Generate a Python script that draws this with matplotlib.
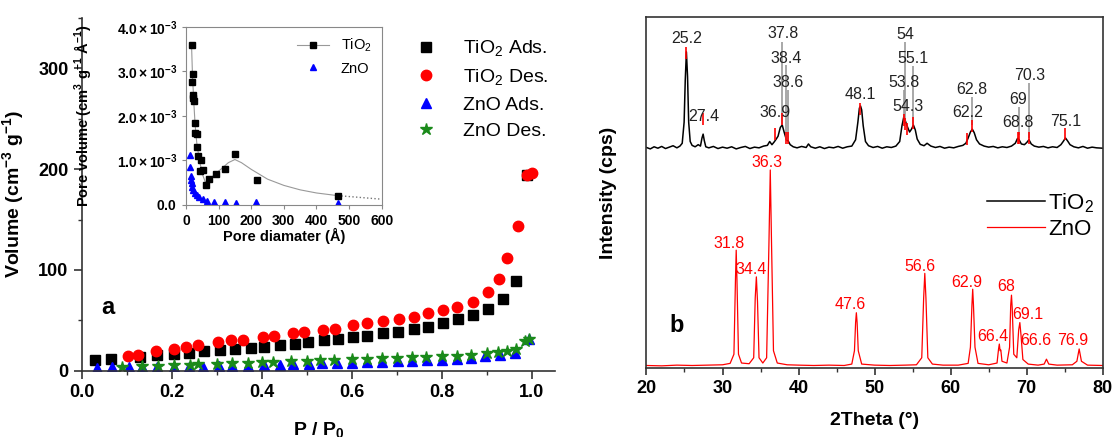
import matplotlib.pyplot as plt
from matplotlib.lines import Line2D
from matplotlib.ticker import MultipleLocator, FuncFormatter

plt.rcParams['font.family'] = ['Liberation Sans', 'DejaVu Sans']
plt.rcParams['axes.labelweight'] = 'bold'
plt.rcParams['mathtext.fontset'] = 'custom'
plt.rcParams['mathtext.rm'] = 'Liberation Sans'
plt.rcParams['mathtext.bf'] = 'Liberation Sans:bold'
plt.rcParams['mathtext.it'] = 'Liberation Sans:italic'

# ---------------- (a) N2 isotherms ----------------
p_tio2_ads = [0.030, 0.066, 0.130, 0.168, 0.205, 0.238, 0.272, 0.308, 0.340, 0.376,
              0.406, 0.440, 0.474, 0.504, 0.538, 0.570, 0.602, 0.634, 0.669, 0.704,
              0.738, 0.770, 0.804, 0.836, 0.870, 0.902, 0.936, 0.966, 0.990]
v_tio2_ads = [11, 12, 14, 15.5, 17, 18, 20, 20.5, 22, 23,
              24, 25.5, 26.5, 28.5, 30, 31, 33, 34.5, 37, 38.5,
              41, 43, 47, 51, 55, 61, 71, 89, 194]

p_tio2_des = [0.102, 0.126, 0.166, 0.204, 0.232, 0.258, 0.302, 0.332, 0.358, 0.404,
              0.428, 0.470, 0.494, 0.536, 0.562, 0.602, 0.634, 0.670, 0.706, 0.738,
              0.770, 0.804, 0.834, 0.870, 0.904, 0.928, 0.946, 0.970, 0.990, 1.000]
v_tio2_des = [14.5, 15.5, 20, 22, 24, 25.5, 28, 30, 30.5, 33,
              34.5, 37, 38.5, 40, 41.5, 45, 47, 49.5, 51.5, 53.5,
              57, 60, 63, 68, 78, 91, 112, 144, 194, 196]

p_zno_ads = [0.033, 0.068, 0.105, 0.135, 0.168, 0.205, 0.238, 0.270, 0.305, 0.335,
             0.370, 0.405, 0.440, 0.470, 0.505, 0.535, 0.568, 0.600, 0.634, 0.668,
             0.702, 0.735, 0.768, 0.800, 0.833, 0.866, 0.896, 0.930, 0.962, 0.995]
v_zno_ads = [3, 3.5, 3.5, 3.5, 4, 4, 4, 4, 4.5, 4.5,
             5, 5.5, 6, 6.5, 7, 7.5, 7.5, 8, 8.5, 9,
             9.5, 10, 10.5, 11, 12, 13, 14.5, 16, 18, 31]

p_zno_des = [0.090, 0.135, 0.170, 0.205, 0.240, 0.258, 0.300, 0.335, 0.370, 0.400,
             0.425, 0.465, 0.500, 0.530, 0.560, 0.600, 0.633, 0.667, 0.700, 0.735,
             0.765, 0.800, 0.835, 0.865, 0.900, 0.925, 0.945, 0.965, 0.985, 0.995]
v_zno_des = [4, 4.5, 5, 5.5, 6, 6.5, 7, 7.5, 8, 8.5,
             9, 9.5, 10, 10.5, 11, 11.5, 12, 12.5, 13, 13.5,
             14, 14.5, 15, 16, 18, 19, 20, 22, 29, 31]

# inset: pore size distribution (x1e-3)
d_tio2 = [17, 18, 20, 22, 23, 24, 27, 28, 33, 34, 38, 43, 46, 53, 61, 72, 92, 120, 150, 217, 465]
pv_tio2 = [3.59, 2.77, 2.95, 2.47, 2.39, 2.34, 1.61, 1.83, 1.59, 1.31, 1.11,
           0.77, 1.01, 0.79, 0.45, 0.58, 0.69, 0.81, 1.14, 0.56, 0.21]
d_fit = [17, 20, 24, 28, 33, 40, 50, 60, 75, 90, 110, 130, 150, 170, 200, 250, 300, 350, 400, 465]
pv_fit = [3.6, 2.9, 2.3, 1.8, 1.4, 1.05, 0.7, 0.5, 0.6, 0.7, 0.82, 0.95, 1.02, 0.95, 0.8,
          0.58, 0.44, 0.34, 0.27, 0.21]
d_tail = [465, 500, 550, 600]
pv_tail = [0.21, 0.19, 0.16, 0.13]
d_zno = [12, 13, 14, 15, 17, 19, 23, 28, 33, 41, 51, 65, 87, 120, 153, 214, 467]
pv_zno = [1.12, 0.86, 0.64, 0.56, 0.49, 0.41, 0.34, 0.28, 0.22, 0.17, 0.13, 0.10,
          0.07, 0.07, 0.05, 0.06, 0.05]

# ---------------- (b) XRD ----------------
tt_tio2 = [20.0, 20.5, 21.0, 21.5, 22.0, 22.5, 23.0, 23.5, 24.0, 24.4,
           24.7, 24.95, 25.1, 25.25, 25.4, 25.55, 25.75, 26.0, 26.4, 26.8,
           27.1, 27.3, 27.45, 27.6, 27.8, 28.2, 28.8, 29.4, 30.0, 30.6,
           31.2, 31.8, 32.4, 33.0, 33.6, 34.2, 34.8, 35.4, 35.9, 36.2,
           36.5, 36.8, 37.0, 37.3, 37.6, 37.85, 38.1, 38.4, 38.6, 38.9,
           39.3, 39.8, 40.4, 41.0, 41.3, 41.6, 42.2, 42.8, 43.4, 44.0,
           44.6, 45.2, 45.8, 46.4, 47.0, 47.5, 47.8, 48.0, 48.15, 48.3,
           48.5, 48.8, 49.2, 49.8, 50.4, 51.0, 51.6, 52.2, 52.8, 53.3,
           53.6, 53.85, 54.1, 54.35, 54.6, 54.85, 55.1, 55.35, 55.6, 56.0,
           56.5, 56.9, 57.4, 58.0, 58.6, 59.2, 59.8, 60.4, 61.0, 61.6,
           62.0, 62.3, 62.6, 62.85, 63.1, 63.4, 63.8, 64.4, 65.0, 65.6,
           66.2, 66.8, 67.4, 68.0, 68.5, 68.8, 69.0, 69.3, 69.7, 70.0,
           70.3, 70.6, 71.0, 71.6, 72.2, 72.8, 73.4, 74.0, 74.5, 74.8,
           75.1, 75.4, 75.7, 76.2, 76.8, 77.4, 78.0, 78.6, 79.2, 80.0]
i_tio2 = [628, 624, 630, 626, 631, 625, 629, 633, 627, 632,
          640, 700, 820, 900, 830, 700, 645, 634, 630, 636,
          632, 655, 666, 648, 630, 627, 631, 625, 629, 626,
          630, 624, 628, 631, 625, 629, 627, 632, 634, 645,
          636, 644, 650, 660, 685, 692, 672, 650, 648, 636,
          630, 627, 631, 628, 638, 630, 626, 630, 625, 629,
          627, 631, 626, 630, 632, 650, 700, 740, 746, 735,
          690, 645, 633, 628, 631, 626, 630, 628, 632, 645,
          690, 716, 700, 685, 672, 680, 692, 678, 652, 637,
          633, 640, 632, 628, 631, 626, 629, 627, 631, 634,
          640, 655, 672, 680, 670, 650, 638, 632, 629, 631,
          627, 630, 628, 632, 640, 654, 650, 638, 636, 642,
          650, 638, 632, 629, 631, 627, 630, 628, 636, 645,
          655, 646, 636, 630, 627, 631, 626, 629, 627, 626]

tt_zno = [20.0, 22.0, 24.0, 26.0, 28.0, 30.0, 31.0, 31.5, 31.7, 31.8,
          31.9, 32.1, 32.5, 33.5, 34.1, 34.3, 34.45, 34.6, 34.8, 35.3,
          35.8, 36.1, 36.28, 36.45, 36.7, 37.2, 38.5, 40.0, 42.0, 44.0,
          46.0, 47.0, 47.35, 47.5, 47.6, 47.7, 47.85, 48.3, 50.0, 52.0,
          54.0, 55.5, 56.2, 56.45, 56.6, 56.75, 57.0, 57.6, 59.0, 61.0,
          62.3, 62.6, 62.8, 62.9, 63.0, 63.2, 63.6, 65.0, 66.1, 66.3,
          66.4, 66.5, 66.6, 66.75, 67.4, 67.75, 67.9, 68.0, 68.1, 68.3,
          68.7, 68.95, 69.1, 69.25, 69.5, 70.2, 71.5, 72.3, 72.6, 72.9,
          74.0, 76.0, 76.6, 76.9, 77.2, 78.0, 80.0]
i_zno = [8, 7, 9, 8, 9, 10, 14, 40, 250, 336,
         250, 40, 15, 13, 30, 200, 260, 190, 30, 15,
         30, 350, 564, 350, 50, 15, 10, 9, 8, 9,
         8, 12, 50, 130, 158, 130, 50, 12, 9, 8,
         9, 10, 30, 200, 270, 200, 30, 12, 9, 9,
         14, 60, 180, 225, 180, 60, 14, 10, 15, 55,
         69, 50, 52, 20, 15, 60, 180, 208, 170, 40,
         30, 110, 130, 95, 25, 12, 9, 12, 26, 12,
         9, 10, 20, 55, 20, 9, 8]

tio2_labels = ['25.2', '27.4', '36.9', '37.8', '38.4', '38.6', '48.1', '53.8', '54',
               '55.1', '54.3', '62.8', '62.2', '69', '68.8', '70.3', '75.1']
tio2_lab_x = [25.3, 27.5, 36.9, 37.9, 38.4, 38.65, 48.1, 53.9, 54.0,
              55.1, 54.35, 62.8, 62.2, 68.9, 68.8, 70.4, 75.1]
tio2_lab_y = [937, 716, 727, 952, 882, 812, 778, 812, 949,
              881, 746, 793, 727, 765, 699, 834, 702]

zno_labels = ['36.3', '31.8', '34.4', '56.6', '47.6', '62.9', '68', '69.1', '66.4', '66.6', '76.9']
zno_lab_x = [35.8, 30.9, 33.7, 55.9, 46.8, 62.1, 67.3, 70.1, 65.5, 71.2, 76.1]
zno_lab_y = [586, 356, 282, 289, 182, 245, 232, 152, 90, 78, 78]

lead_x = [37.8, 38.4, 38.6, 54.0, 55.1, 53.8, 62.8, 69.0, 70.3]
lead_top = [928, 863, 792, 928, 860, 792, 772, 744, 811]
lead_bot = [692, 649, 649, 700, 695, 712, 692, 664, 655]

ref_x = [25.2, 27.4, 36.9, 37.8, 38.4, 38.6, 48.1, 53.8, 54.0, 54.3, 55.1,
         62.2, 62.8, 68.8, 69.0, 70.3, 75.1]
ref_top = [914, 726, 683, 726, 672, 672, 755, 723, 712, 698, 715,
           669, 706, 672, 672, 672, 683]


def bold_ticklabels(axis):
    for lab in axis.get_xticklabels() + axis.get_yticklabels():
        lab.set_fontweight('bold')


fig = plt.figure(figsize=(11.15, 4.37), dpi=100)

# ---- panel a ----
ax = fig.add_axes([0.0733, 0.1517, 0.4245, 0.8071])
ax.plot(p_tio2_ads, v_tio2_ads, 's', color='black', ms=6.5, label='TiO$_2$ Ads.')
ax.plot(p_tio2_des, v_tio2_des, 'o', color='#ff0000', ms=7.5, label='TiO$_2$ Des.')
ax.plot(p_zno_ads, v_zno_ads, '^', color='#0000ff', ms=7.5, label='ZnO Ads.')
ax.plot(p_zno_des, v_zno_des, '*', color='#1a8a1a', ms=9, label='ZnO Des.')
ax.set_xlim(0, 1.052)
ax.set_ylim(0, 350)
ax.xaxis.set_major_locator(MultipleLocator(0.2))
ax.xaxis.set_minor_locator(MultipleLocator(0.1))
ax.yaxis.set_major_locator(MultipleLocator(100))
ax.yaxis.set_minor_locator(MultipleLocator(50))
ax.xaxis.set_major_formatter(FuncFormatter(lambda v, pos: '%.1f' % v))
ax.spines['top'].set_visible(False)
ax.spines['right'].set_visible(False)
for s in ['left', 'bottom']:
    ax.spines[s].set_color('#333333')
    ax.spines[s].set_linewidth(1.2)
ax.tick_params(which='major', direction='out', length=6, width=1.2, labelsize=13, color='#333333')
ax.tick_params(which='minor', direction='out', length=3, width=1.0, color='#333333')
bold_ticklabels(ax)
ax.set_xlabel(r'P / P$_{\mathbf{0}}$', fontsize=14)
ax.xaxis.set_label_coords(0.5, -0.14)
ax.set_ylabel(r'Volume (cm$^{\mathbf{-3}}$ g$^{\mathbf{-1}}$)', fontsize=14)
ax.yaxis.set_label_coords(-0.118, 0.5)
ax.text(0.058, 63, 'a', fontsize=17, fontweight='bold', ha='center', va='center')
ax.legend(loc='upper right', bbox_to_anchor=(1.01, 0.975), frameon=False,
          prop={'size': 14}, handletextpad=0.9, labelspacing=0.45,
          borderaxespad=0.2)

# ---- inset ----
ins = fig.add_axes([0.1668, 0.5309, 0.1755, 0.408])
ins.plot(d_fit, [v * 1e-3 for v in pv_fit], '-', color='#999999', lw=0.8)
ins.plot(d_tail, [v * 1e-3 for v in pv_tail], ':', color='#777777', lw=1.0)
ins.plot(d_tio2, [v * 1e-3 for v in pv_tio2], 's', color='black', ms=4)
ins.plot(d_zno, [v * 1e-3 for v in pv_zno], '^', color='#0000ff', ms=4.5)
ins.set_xlim(0, 600)
ins.set_ylim(0, 4e-3)
ins.set_xticks([0, 100, 200, 300, 400, 500, 600])
ins.set_yticks([0, 1e-3, 2e-3, 3e-3, 4e-3])
ins.yaxis.set_major_formatter(FuncFormatter(
    lambda v, pos: r'$\mathbf{0.0}$' if v == 0 else r'$\mathbf{%.1f\times10^{-3}}$' % (v * 1e3)))
for s in ins.spines.values():
    s.set_color('#888888')
ins.tick_params(direction='out', length=3, labelsize=10, color='#888888')
bold_ticklabels(ins)
ins.set_xlabel('Pore diamater (Å)', fontsize=10.5)
ins.xaxis.set_label_coords(0.5, -0.13)
ins.set_ylabel(r'Pore volume (cm$^{\mathbf{3}}$ g$^{\mathbf{-1}}$ Å$^{\mathbf{-1}}$)', fontsize=10.5)
ins.yaxis.set_label_coords(-0.475, 0.5)
ins_handles = [Line2D([], [], color='#999999', lw=0.8, marker='s', mfc='black', mec='black', ms=4),
               Line2D([], [], ls='none', marker='^', color='#0000ff', ms=4.5)]
ins.legend(ins_handles, ['TiO$_2$', 'ZnO'], loc='upper right', frameon=False,
           prop={'size': 10.5}, handlelength=2.2, borderaxespad=0.3)

# ---- panel b ----
bx = fig.add_axes([0.5798, 0.1572, 0.4092, 0.8046])
bx.plot(tt_tio2, i_tio2, color='black', lw=1.1, label='TiO$_2$')
bx.plot(tt_zno, i_zno, color='#ff0000', lw=0.9, label='ZnO')
bx.vlines(lead_x, lead_bot, lead_top, color='#9a9a9a', lw=1.2)
bx.vlines(ref_x, [t - 35 for t in ref_top], ref_top, color='#ff0000', lw=1.2)
for lab, x, y in zip(tio2_labels, tio2_lab_x, tio2_lab_y):
    bx.text(x, y, lab, fontsize=11.5, color='#222222', ha='center', va='center')
for lab, x, y in zip(zno_labels, zno_lab_x, zno_lab_y):
    bx.text(x, y, lab, fontsize=11.5, color='#ff0000', ha='center', va='center')
bx.text(24.0, 123, 'b', fontsize=17, fontweight='bold', ha='center', va='center')
bx.set_xlim(20, 80)
bx.set_ylim(0, 1000)
bx.set_yticks([])
bx.xaxis.set_major_locator(MultipleLocator(10))
bx.xaxis.set_minor_locator(MultipleLocator(5))
for s in bx.spines.values():
    s.set_color('#333333')
    s.set_linewidth(1.2)
bx.tick_params(which='major', direction='out', length=5, width=1.2, labelsize=13, color='#333333')
bx.tick_params(which='minor', direction='out', length=3, width=1.0, color='#333333')
bold_ticklabels(bx)
bx.set_xlabel('2Theta (°)', fontsize=14)
bx.xaxis.set_label_coords(0.5, -0.125)
bx.set_ylabel('Intensity (cps)', fontsize=14)
bx.yaxis.set_label_coords(-0.065, 0.5)
bx.legend(loc='center right', bbox_to_anchor=(1.025, 0.434), frameon=False,
          prop={'size': 16}, handlelength=2.6, handletextpad=0.15,
          labelspacing=0.2)

fig.savefig('out.png', dpi=100)
